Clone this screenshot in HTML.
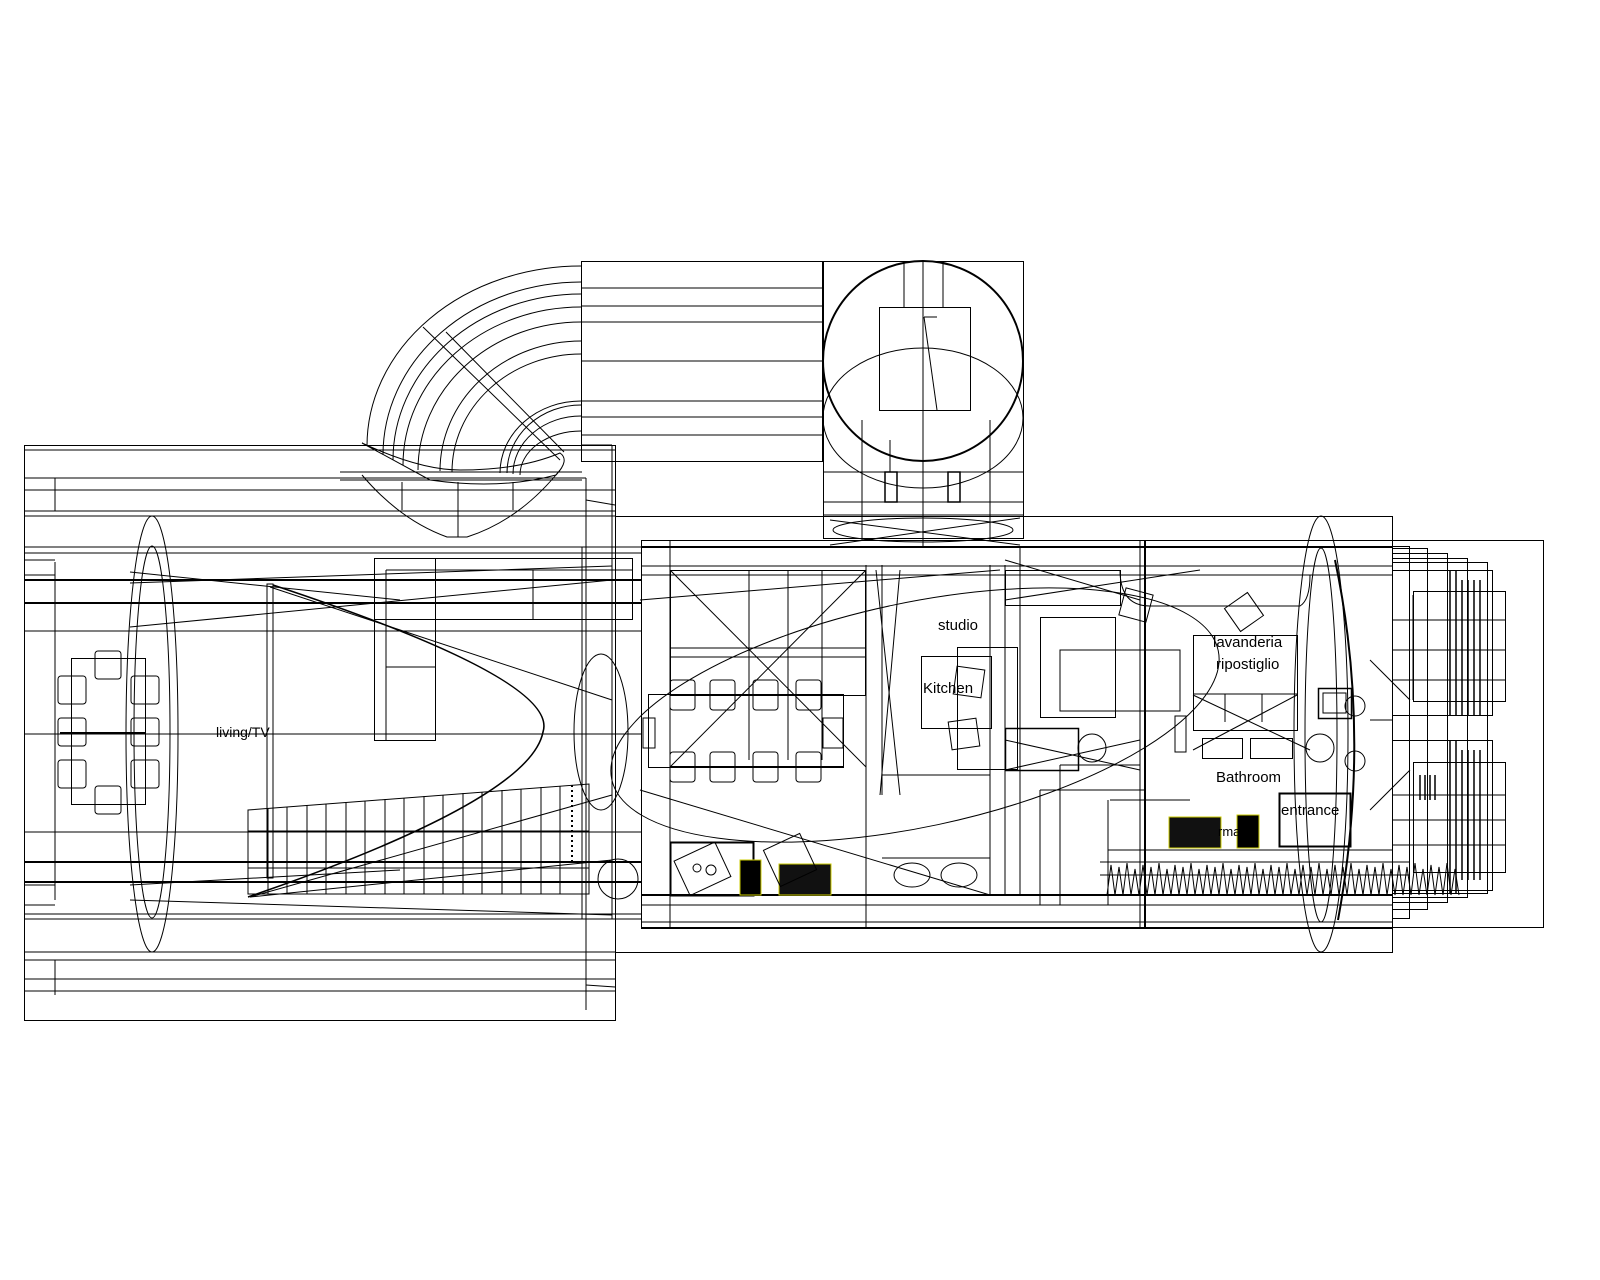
<!DOCTYPE html>
<html><head><meta charset="utf-8"><style>
html,body{margin:0;padding:0;background:#fff;}
svg{display:block;}
text{font-family:"Liberation Sans",sans-serif;fill:#000;}
</style></head><body>
<svg width="1600" height="1280" viewBox="0 0 1600 1280" xmlns="http://www.w3.org/2000/svg">
<g fill="none" stroke="#000" stroke-width="1">
<!-- left block -->
<rect x="24.5" y="445.5" width="591" height="575"/>
<line x1="24" y1="450" x2="615" y2="450"/>
<line x1="24" y1="478" x2="586" y2="478"/>
<line x1="24" y1="490" x2="615" y2="490"/>
<line x1="24" y1="511" x2="615" y2="511"/>
<line x1="24" y1="516" x2="615" y2="516"/>
<line x1="55" y1="478" x2="55" y2="511"/>
<line x1="586" y1="478" x2="586" y2="1010"/>
<line x1="24" y1="952" x2="615" y2="952"/>
<line x1="24" y1="960" x2="615" y2="960"/>
<line x1="24" y1="979" x2="615" y2="979"/>
<line x1="24" y1="991" x2="615" y2="991"/>
<line x1="55" y1="960" x2="55" y2="995"/>
<line x1="586" y1="500" x2="615" y2="505"/>
<line x1="586" y1="985" x2="615" y2="987"/>
<!-- main band -->
<line x1="24" y1="547" x2="641" y2="547"/>
<line x1="24" y1="553" x2="641" y2="553"/>
<line x1="24" y1="919" x2="641" y2="919"/>
<line x1="24" y1="914" x2="641" y2="914"/>
<line x1="24" y1="580" x2="641" y2="580" stroke-width="2"/>
<line x1="24" y1="603" x2="641" y2="603" stroke-width="2"/>
<line x1="24" y1="631" x2="641" y2="631"/>
<line x1="24" y1="734" x2="641" y2="734"/>
<line x1="24" y1="832" x2="641" y2="832"/>
<line x1="24" y1="862" x2="641" y2="862" stroke-width="2"/>
<line x1="24" y1="882" x2="641" y2="882" stroke-width="2"/>
<line x1="55" y1="562" x2="55" y2="900"/>
<line x1="24" y1="560" x2="55" y2="560"/>
<line x1="24" y1="575" x2="55" y2="575"/>
<line x1="24" y1="885" x2="55" y2="885"/>
<line x1="24" y1="905" x2="55" y2="905"/>
<line x1="582" y1="547" x2="582" y2="919"/>
<line x1="612" y1="547" x2="612" y2="919"/>
<line x1="130" y1="583" x2="612" y2="566"/>
<line x1="130" y1="627" x2="612" y2="580"/>
<line x1="130" y1="572" x2="400" y2="600"/>
<line x1="130" y1="885" x2="400" y2="870"/>
<line x1="130" y1="900" x2="612" y2="915"/>
<line x1="270" y1="587" x2="612" y2="700"/>
<line x1="250" y1="897" x2="612" y2="795"/>
<line x1="250" y1="897" x2="612" y2="860"/>
<!-- ellipses -->
<ellipse cx="152" cy="734" rx="26" ry="218"/>
<ellipse cx="152" cy="732" rx="18" ry="186"/>
<ellipse cx="601" cy="732" rx="27" ry="78"/>
<circle cx="618" cy="879" r="20"/>
<!-- dining -->
<rect x="71.5" y="658.5" width="74" height="146"/>
<line x1="60" y1="733" x2="145" y2="733" stroke-width="2"/>
<g>
<rect x="95" y="651" width="26" height="28" rx="3"/>
<rect x="95" y="786" width="26" height="28" rx="3"/>
<rect x="58" y="676" width="28" height="28" rx="3"/>
<rect x="58" y="718" width="28" height="28" rx="3"/>
<rect x="58" y="760" width="28" height="28" rx="3"/>
<rect x="131" y="676" width="28" height="28" rx="3"/>
<rect x="131" y="718" width="28" height="28" rx="3"/>
<rect x="131" y="760" width="28" height="28" rx="3"/>
</g>
<rect x="267" y="584" width="6" height="294"/>
<!-- sofa -->
<rect x="374.5" y="558.5" width="61" height="182"/>
<line x1="386" y1="570" x2="386" y2="740"/>
<line x1="386" y1="667" x2="435" y2="667"/>
<rect x="374.5" y="558.5" width="258" height="61"/>
<line x1="386" y1="570" x2="632" y2="570"/>
<line x1="533" y1="570" x2="533" y2="619"/>
<!-- parabola -->
<path d="M273 585 Q560 680 543 732 Q530 800 248 897" stroke-width="1.6"/>
<!-- stairs -->
<path d="M248 810 L589 784 L589 894 L248 894 Z"/>
<path d="M248 810 l0 84 M268 808 v86 M287 807 v87 M307 805 v89 M326 804 v90 M346 802 v92 M365 801 v93 M385 799 v95 M404 798 v96 M424 796 v98 M443 795 v99 M463 793 v101 M482 792 v102 M502 790 v104 M521 789 v105 M541 787 v107 M560 786 v108"/>
<line x1="248" y1="831" x2="589" y2="831"/>
<line x1="248" y1="868" x2="589" y2="868"/>
<line x1="572" y1="785" x2="572" y2="865" stroke-dasharray="2,3" stroke-width="2"/>
<!-- arc structure -->
<rect x="581.5" y="261.5" width="241" height="200"/>
<line x1="581" y1="288" x2="822" y2="288"/>
<line x1="581" y1="306" x2="822" y2="306"/>
<line x1="581" y1="322" x2="822" y2="322"/>
<line x1="581" y1="361" x2="822" y2="361"/>
<line x1="581" y1="401" x2="822" y2="401"/>
<line x1="581" y1="417" x2="822" y2="417"/>
<line x1="581" y1="435" x2="822" y2="435"/>
<path d="M581 266 A214 180 0 0 0 367 446"/>
<path d="M581 282 A198 173 0 0 0 383 455"/>
<path d="M581 294 A188 166 0 0 0 393 460"/>
<path d="M581 307 A178 158 0 0 0 403 465"/>
<path d="M581 322 A163 148 0 0 0 418 470"/>
<path d="M581 341 A141 130 0 0 0 440 471"/>
<path d="M581 354 A129 118 0 0 0 452 472"/>
<path d="M581 401 A81 72 0 0 0 500 473"/>
<path d="M581 405 A74 68 0 0 0 507 473"/>
<path d="M581 416 A68 58 0 0 0 513 474"/>
<path d="M581 431 A61 44 0 0 0 520 475"/>
<line x1="423" y1="327" x2="560" y2="460"/>
<line x1="446" y1="332" x2="564" y2="452"/>
<path d="M362 443 Q420 470 460 470 Q520 470 560 453 Q570 460 556 475 Q500 490 430 480 Z"/>
<path d="M362 475 Q400 520 447 537 L467 537 Q520 520 560 470"/>
<line x1="340" y1="472" x2="582" y2="472"/>
<line x1="340" y1="480" x2="582" y2="480"/>
<line x1="402" y1="482" x2="402" y2="510"/>
<line x1="458" y1="482" x2="458" y2="537"/>
<line x1="513" y1="482" x2="513" y2="510"/>
<line x1="582" y1="445" x2="612" y2="445"/>
<line x1="612" y1="445" x2="612" y2="547"/>
<!-- tower -->
<rect x="823.5" y="261.5" width="200" height="277"/>
<circle cx="923" cy="361" r="100" stroke-width="2"/>
<ellipse cx="923" cy="418" rx="100" ry="70"/>
<rect x="879.5" y="307.5" width="91" height="103"/>
<line x1="923" y1="261" x2="923" y2="548"/>
<line x1="904" y1="262" x2="904" y2="307"/>
<line x1="943" y1="262" x2="943" y2="307"/>
<line x1="924" y1="317" x2="937" y2="410"/>
<line x1="924" y1="317" x2="937" y2="317"/>
<line x1="823" y1="472" x2="1023" y2="472"/>
<line x1="823" y1="502" x2="1023" y2="502"/>
<line x1="823" y1="515" x2="1023" y2="515"/>
<line x1="862" y1="420" x2="862" y2="540"/>
<line x1="890" y1="440" x2="890" y2="472"/>
<line x1="990" y1="420" x2="990" y2="540"/>
<rect x="885" y="472" width="12" height="30" stroke-width="1.5"/>
<rect x="948" y="472" width="12" height="30" stroke-width="1.5"/>
<ellipse cx="923" cy="530" rx="90" ry="12"/>
<line x1="830" y1="520" x2="1020" y2="545"/>
<line x1="830" y1="545" x2="1020" y2="518"/>
<!-- big outlines right -->
<rect x="641.5" y="540.5" width="751" height="388"/>
<rect x="615.5" y="516.5" width="777" height="436"/>
<rect x="641.5" y="540.5" width="902" height="387"/>
<line x1="641" y1="547" x2="1392" y2="547" stroke-width="2"/>
<line x1="641" y1="895" x2="1392" y2="895" stroke-width="2"/>
<line x1="641" y1="905" x2="1392" y2="905"/>
<line x1="641" y1="922" x2="1392" y2="922"/>
<line x1="641" y1="575" x2="1392" y2="575"/>
<line x1="641" y1="566" x2="1392" y2="566"/>
<line x1="670" y1="540" x2="670" y2="929"/>
<!-- kitchen zone -->
<rect x="670.5" y="570.5" width="195" height="125"/>
<line x1="670" y1="570" x2="866" y2="767"/>
<line x1="866" y1="570" x2="670" y2="767"/>
<line x1="670" y1="648" x2="866" y2="648"/>
<line x1="670" y1="657" x2="866" y2="657"/>
<line x1="749" y1="570" x2="749" y2="760"/>
<line x1="788" y1="570" x2="788" y2="760"/>
<line x1="822" y1="570" x2="822" y2="760"/>
<rect x="648.5" y="694.5" width="195" height="73"/>
<line x1="670" y1="767" x2="843" y2="767" stroke-width="2"/>
<g>
<rect x="670" y="680" width="25" height="30" rx="3"/><rect x="710" y="680" width="25" height="30" rx="3"/>
<rect x="753" y="680" width="25" height="30" rx="3"/><rect x="796" y="680" width="25" height="30" rx="3"/>
<rect x="670" y="752" width="25" height="30" rx="3"/><rect x="710" y="752" width="25" height="30" rx="3"/>
<rect x="753" y="752" width="25" height="30" rx="3"/><rect x="796" y="752" width="25" height="30" rx="3"/>
<rect x="643" y="718" width="12" height="30"/>
<rect x="823" y="718" width="20" height="30"/>
</g>
<line x1="866" y1="565" x2="866" y2="929"/>
<line x1="882" y1="565" x2="882" y2="795"/>
<line x1="876" y1="570" x2="900" y2="795"/>
<line x1="900" y1="570" x2="880" y2="795"/>
<line x1="990" y1="565" x2="990" y2="895"/>
<line x1="1005" y1="565" x2="1005" y2="895"/>
<rect x="921.5" y="656.5" width="70" height="72"/>
<rect x="957.5" y="647.5" width="60" height="122"/>
<line x1="882" y1="775" x2="990" y2="775"/>
<line x1="882" y1="858" x2="990" y2="858"/>
<ellipse cx="912" cy="875" rx="18" ry="12"/>
<ellipse cx="959" cy="875" rx="18" ry="12"/>
<rect x="955" y="668" width="28" height="28" transform="rotate(8 969 682)"/>
<rect x="950" y="720" width="28" height="28" transform="rotate(-8 964 734)"/>
<!-- stove -->
<rect x="670.5" y="842.5" width="83" height="53" stroke-width="2"/>
<rect x="680" y="850" width="45" height="38" transform="rotate(-25 702 869)"/>
<circle cx="697" cy="868" r="4"/><circle cx="711" cy="870" r="5"/>
<rect x="740" y="860" width="21" height="35" fill="#000" stroke="#cc0"/>
<rect x="779" y="864" width="52" height="31" fill="#111" stroke="#cc0"/>
<rect x="770" y="840" width="40" height="40" transform="rotate(-25 790 860)"/>
<!-- big ellipse -->
<ellipse cx="915" cy="715" rx="310" ry="112" transform="rotate(-12 915 715)"/>
<line x1="640" y1="790" x2="990" y2="895"/>
<line x1="640" y1="600" x2="1000" y2="570"/>
<!-- middle right -->
<line x1="1020" y1="548" x2="1020" y2="895"/>
<line x1="1140" y1="540" x2="1140" y2="929"/>
<line x1="1145" y1="540" x2="1145" y2="929" stroke-width="2"/>
<rect x="1005.5" y="570.5" width="115" height="35"/>
<rect x="1040.5" y="617.5" width="75" height="100"/>
<rect x="1060" y="650" width="120" height="61"/>
<line x1="1005" y1="560" x2="1140" y2="600"/>
<line x1="1005" y1="600" x2="1200" y2="570"/>
<line x1="1005" y1="740" x2="1140" y2="770"/>
<line x1="1005" y1="770" x2="1140" y2="740"/>
<rect x="1005.5" y="728.5" width="73" height="42" stroke-width="1.5"/>
<circle cx="1092" cy="748" r="14"/>
<rect x="1122" y="591" width="28" height="28" transform="rotate(15 1136 605)"/>
<rect x="1230" y="598" width="28" height="28" transform="rotate(-35 1244 612)"/>
<path d="M1120 570 Q1120 606 1150 606 L1300 606 Q1310 600 1310 575"/>
<rect x="1193.5" y="635.5" width="104" height="95"/>
<line x1="1193" y1="694" x2="1297" y2="694"/>
<line x1="1225" y1="694" x2="1225" y2="722"/>
<line x1="1262" y1="694" x2="1262" y2="722"/>
<line x1="1193" y1="695" x2="1310" y2="750"/>
<line x1="1193" y1="750" x2="1297" y2="695"/>
<rect x="1318.5" y="688.5" width="33" height="30" stroke-width="1.5"/>
<rect x="1323" y="693" width="23" height="20"/>
<circle cx="1320" cy="748" r="14"/>
<rect x="1202.5" y="738.5" width="40" height="20"/>
<rect x="1250.5" y="738.5" width="42" height="20"/>
<rect x="1175" y="716" width="11" height="36"/>
<line x1="1060" y1="765" x2="1140" y2="765"/>
<line x1="1060" y1="765" x2="1060" y2="905"/>
<line x1="1040" y1="790" x2="1145" y2="790"/>
<line x1="1040" y1="790" x2="1040" y2="905"/>
<line x1="1110" y1="800" x2="1190" y2="800"/>
<rect x="1279.5" y="793.5" width="71" height="53" stroke-width="2"/>
<line x1="1108" y1="800" x2="1108" y2="905"/>
<line x1="1108" y1="850" x2="1392" y2="850"/>
<rect x="1169" y="817" width="52" height="31" fill="#111" stroke="#cc0"/>
<rect x="1237" y="815" width="22" height="33" fill="#000" stroke="#cc0"/>
<!-- grass -->
<path d="M1107 895 l4 -30 l4 30 l4 -28 l4 28 l4 -32 l4 32 l4 -26 l4 26 l4 -30 l4 30 l4 -28 l4 28 l4 -32 l4 32 l4 -26 l4 26 l4 -30 l4 30 l4 -28 l4 28 l4 -32 l4 32 l4 -26 l4 26 l4 -30 l4 30 l4 -28 l4 28 l4 -32 l4 32 l4 -26 l4 26 l4 -30 l4 30 l4 -28 l4 28 l4 -32 l4 32 l4 -26 l4 26 l4 -30 l4 30 l4 -28 l4 28 l4 -32 l4 32 l4 -26 l4 26 l4 -30 l4 30 l4 -28 l4 28 l4 -32 l4 32 l4 -26 l4 26 l4 -30 l4 30 l4 -28 l4 28 l4 -32 l4 32 l4 -26 l4 26 l4 -30 l4 30 l4 -28 l4 28 l4 -32 l4 32 l4 -26 l4 26 l4 -30 l4 30 l4 -28 l4 28 l4 -32 l4 32 l4 -26 l4 26 l4 -30 l4 30 l4 -28 l4 28 l4 -32 l4 32 l4 -26 l4 26"/>
<line x1="1100" y1="862" x2="1410" y2="862"/>
<line x1="1100" y1="875" x2="1410" y2="875"/>
<!-- right ellipses -->
<ellipse cx="1321" cy="734" rx="27" ry="218"/>
<ellipse cx="1321" cy="735" rx="16" ry="187"/>
<path d="M1335 560 Q1372 735 1338 920" stroke-width="2"/>
<circle cx="1355" cy="706" r="10"/><circle cx="1355" cy="761" r="10"/>
<!-- right stacked -->
<rect x="1392.5" y="546.5" width="17" height="372"/>
<rect x="1392.5" y="548.5" width="35" height="361"/>
<rect x="1392.5" y="553.5" width="55" height="349"/>
<rect x="1392.5" y="558.5" width="75" height="339"/>
<rect x="1392.5" y="562.5" width="95" height="331"/>
<rect x="1392.5" y="570.5" width="100" height="145"/>
<rect x="1392.5" y="740.5" width="100" height="150"/>
<rect x="1413.5" y="591.5" width="92" height="110"/>
<rect x="1413.5" y="762.5" width="92" height="110"/>
<g stroke-width="1.5">
<line x1="1450" y1="570" x2="1450" y2="715"/><line x1="1456" y1="570" x2="1456" y2="715"/>
<line x1="1462" y1="580" x2="1462" y2="715"/><line x1="1468" y1="580" x2="1468" y2="715"/>
<line x1="1474" y1="580" x2="1474" y2="715"/><line x1="1480" y1="580" x2="1480" y2="715"/>
<line x1="1450" y1="740" x2="1450" y2="893"/><line x1="1456" y1="740" x2="1456" y2="893"/>
<line x1="1462" y1="750" x2="1462" y2="880"/><line x1="1468" y1="750" x2="1468" y2="880"/>
<line x1="1474" y1="750" x2="1474" y2="880"/><line x1="1480" y1="750" x2="1480" y2="880"/>
<line x1="1420" y1="775" x2="1420" y2="800"/><line x1="1425" y1="775" x2="1425" y2="800"/>
<line x1="1430" y1="775" x2="1430" y2="800"/><line x1="1435" y1="775" x2="1435" y2="800"/>
</g>
<line x1="1413" y1="595" x2="1413" y2="700"/>
<line x1="1392" y1="620" x2="1505" y2="620"/>
<line x1="1392" y1="650" x2="1505" y2="650"/>
<line x1="1392" y1="680" x2="1505" y2="680"/>
<line x1="1392" y1="795" x2="1505" y2="795"/>
<line x1="1392" y1="820" x2="1505" y2="820"/>
<line x1="1392" y1="845" x2="1505" y2="845"/>
<line x1="1370" y1="720" x2="1392" y2="720"/>
<line x1="1370" y1="660" x2="1410" y2="700"/>
<line x1="1370" y1="810" x2="1410" y2="770"/>
</g>
<g font-size="15">
<text x="216" y="737" font-size="14">living/TV</text>
<text x="938" y="630">studio</text>
<text x="923" y="693">Kitchen</text>
<text x="1213" y="647">lavanderia</text>
<text x="1216" y="669">ripostiglio</text>
<text x="1216" y="782">Bathroom</text>
<text x="1281" y="815">entrance</text>
<text x="1218" y="836" font-size="13">rma</text>
</g>
</svg>
</body></html>
